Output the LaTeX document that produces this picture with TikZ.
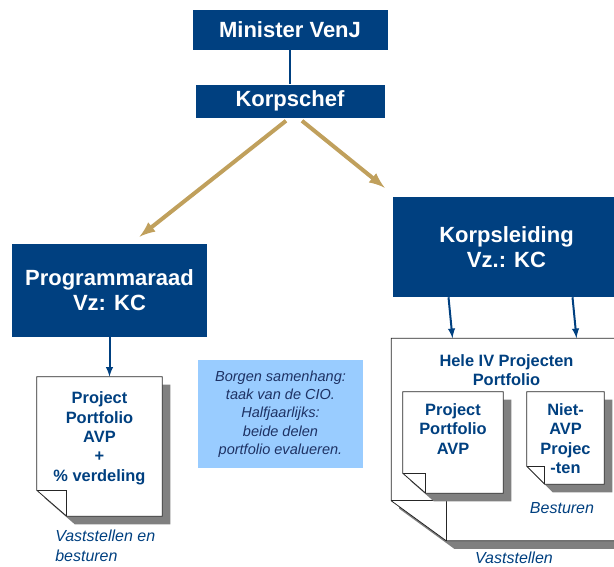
\documentclass[tikz,border=0pt]{standalone}
\usepackage{fontspec}
\setmainfont{Liberation Sans}
\usetikzlibrary{positioning}
\definecolor{navy}{RGB}{0,64,128}
\definecolor{gold}{RGB}{192,160,92}
\definecolor{noteblue}{RGB}{153,204,255}
\definecolor{noteink}{RGB}{30,50,100}
\begin{document}
\begin{tikzpicture}[x=0.75pt, y=-0.75pt]
    \tikzstyle{head} = [rectangle, fill=navy, text=white, align=center, inner sep=0pt, font=\bfseries\fontsize{16.5}{18.8}\selectfont]
    \tikzstyle{doc} = [rectangle, inner sep=0pt]
    \tikzstyle{doctext} = [text=navy, align=center, inner sep=0pt, font=\bfseries\fontsize{12.3}{14.6}\selectfont]
    \tikzstyle{remark} = [text=navy, align=left, inner sep=0pt, font=\itshape\fontsize{12}{15}\selectfont]
    \tikzstyle{note} = [rectangle, fill=noteblue, text=noteink, align=center, inner sep=0pt, font=\itshape\fontsize{10.9}{13.7}\selectfont]
    \tikzstyle{link} = [draw=navy, line width=1.5pt]
    \tikzstyle{line} = [draw=navy, line width=1.5pt, -latex]
    \tikzstyle{goldline} = [draw=gold, line width=3pt, -latex]

    \useasboundingbox (0,0) rectangle (614,567);

    \node [head, minimum width=146.25pt, minimum height=30pt] (minister) at (290,30) {Minister VenJ};
    \node [head, minimum width=141.75pt, minimum height=24.75pt, below=25.5pt of minister] (korpschef) {Korpschef};
    \node [head, minimum width=146.25pt, minimum height=69.75pt] (prog) at (109.5,290.5) {Programmaraad\\Vz: KC};
    \node [head, minimum width=170.25pt, minimum height=75pt] (leiding) at (506.5,247) {Korpsleiding\\Vz.: KC};

    \node [note, minimum width=123.75pt, minimum height=81pt] (cio) at (280.5,414)
        {Borgen samenhang:\\taak van de CIO.\\Halfjaarlijks:\\beide delen\\portfolio evalueren.};

    % documents (shape only, text comes later)
    \node [doc, minimum width=93.75pt, minimum height=104.25pt] (docA) at (99.5,446.5) {};
    \node [doc, minimum width=172.5pt, minimum height=151.5pt, below=30.75pt of leiding] (bigdoc) {};
    \node [doc, minimum width=75pt, minimum height=75.75pt] (docB) at (453,442.5) {};
    \node [doc, minimum width=57.75pt, minimum height=69pt] (docC) at (565.5,438) {};

    \draw [link] (minister.south) -- (minister.south |- korpschef.north);
    \draw [goldline] ([shift={(-4,3)}]korpschef.south) -- ([shift={(30,-7)}]prog.north);
    \draw [goldline] ([shift={(12,3)}]korpschef.south) -- ([shift={(-8,-9)}]leiding.north west);
    \draw [line] (prog.south) -- (prog.south |- docA.north);
    \draw [line] ([shift={(-58,0)}]leiding.south) -- ([shift={(-54,0)}]bigdoc.north);
    \draw [line] ([shift={(66,0)}]leiding.south) -- ([shift={(70,0)}]bigdoc.north);

    \foreach \d/\fx/\fy in {docA/30/26, bigdoc/55/40, docB/23/20, docC/18/18} {
        \fill [black!50] ([shift={(8,8)}]\d.north west) -- ([shift={(8,8)}]\d.north east) -- ([shift={(8,8)}]\d.south east)
            -- ([shift={(8+\fx,8)}]\d.south west) -- ([shift={(8,8-\fy)}]\d.south west) -- cycle;
        \filldraw [fill=white, draw=black!85, line width=0.6pt] (\d.north west) -- (\d.north east) -- (\d.south east)
            -- ([shift={(\fx,0)}]\d.south west) -- ([shift={(0,-\fy)}]\d.south west) -- cycle;
        \draw [black!85, line width=0.6pt] ([shift={(0,-\fy)}]\d.south west) -- ([shift={(\fx,-\fy)}]\d.south west) -- ([shift={(\fx,0)}]\d.south west);
    }

    \node [doctext, below=11pt of docA.north] (docAtext) {Project\\Portfolio\\AVP\\+\\\% verdeling};
    \node [doctext, below=11.7pt of bigdoc.north] (bigdoctext) {Hele IV Projecten\\Portfolio};
    \node [doctext, below=8.7pt of docB.north] (docBtext) {Project\\Portfolio\\AVP};
    \node [doctext, below=8.7pt of docC.north] (docCtext) {Niet-\\AVP\\Projec\\-ten};

    \node [remark, anchor=north west] (vastA) at (55,530) {Vaststellen en\\besturen};
    \node [remark] (besturen) at (562,508) {Besturen};
    \node [remark] (vastB) at (514,558) {Vaststellen};
\end{tikzpicture}
\end{document}
